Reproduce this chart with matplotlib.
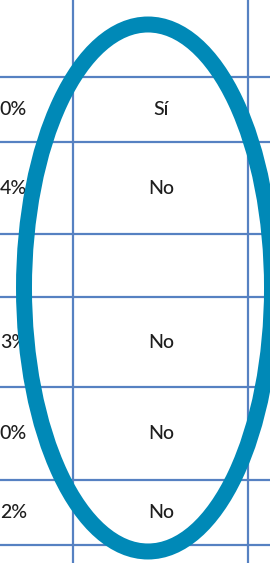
import matplotlib.pyplot as plt
from matplotlib.patches import Ellipse

# table content (cropped view of a larger table)
pct_labels = ["0%", "4%", "", "3%", "0%", "2%"]
answers = ["Sí", "No", "", "No", "No", "No"]
row_edges = [77, 142, 234, 297, 387, 480, 545]
col_edges = [73, 248]

fig = plt.figure(figsize=(2.70, 5.63), dpi=100)
ax = fig.add_axes([0, 0, 1, 1])
ax.set_xlim(0, 270)
ax.set_ylim(563, 0)
ax.axis("off")

grid_color = "#5681c2"
for y in row_edges:
    ax.plot([0, 270], [y, y], color=grid_color, lw=1.6, solid_capstyle="butt")
for x in col_edges:
    ax.plot([x, x], [0, 563], color=grid_color, lw=1.6, solid_capstyle="butt")

font = ["Lato", "DejaVu Sans"]
for i in range(len(answers)):
    yc = (row_edges[i] + row_edges[i + 1]) / 2
    if pct_labels[i]:
        ax.text(27, yc, pct_labels[i], ha="right", va="center", fontsize=14,
                color="#1e1e1e", family=font, weight="medium")
    if answers[i]:
        ax.text(161, yc, answers[i], ha="center", va="center", fontsize=14,
                color="#1e1e1e", family=font, weight="medium")

# highlight ring, drawn over the grid
ring = Ellipse((148, 288), 248, 527, fill=False, edgecolor="#0089b7", lw=11.5,
               zorder=5)
ax.add_patch(ring)

fig.savefig("out.png", dpi=100)
